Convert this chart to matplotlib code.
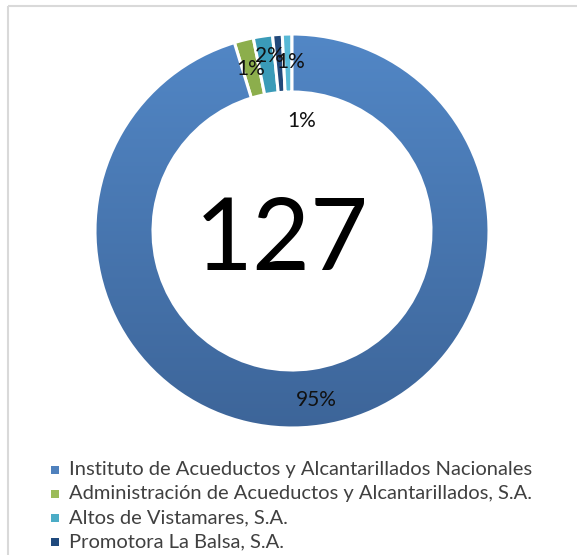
import numpy as np
import matplotlib
matplotlib.use("Agg")
import matplotlib.pyplot as plt
from matplotlib.patches import Rectangle
from matplotlib.colors import LinearSegmentedColormap

# ---- data ----
categories = [
    "Instituto de Acueductos y Alcantarillados Nacionales",
    "Administración de Acueductos y Alcantarillados, S.A.",
    "Altos de Vistamares, S.A.",
    "Promotora La Balsa, S.A.",
    "Otros",
]
values = [121, 2, 2, 1, 1]
pct_labels = ["95%", "1%", "2%", "1%", "1%"]
total_label = "127"
legend_shown = 4

colors = ["#4A7AB8", "#8CAE4C", "#3A9BB8", "#22497A", "#58B9D6"]
legend_colors = ["#4F81BD", "#9BBB59", "#4BACC6", "#1F497D"]

# ---- style / layout ----
W, H = 577, 555
fig = plt.figure(figsize=(W / 100, H / 100), dpi=100)
ax = fig.add_axes([0, 0, 1, 1])
FONT = "Lato"

cx, cy, R, ring = 292, 231, 197, 58

# chart border
ax.add_patch(Rectangle((8, 6), 700, 700, fill=False, edgecolor="#D9D9D9", lw=1.5))

# pie (y axis inverted -> counterclock=True draws clockwise on screen)
wedges, _ = ax.pie(values, colors=colors, startangle=-90, counterclock=True,
                   center=(cx, cy), radius=R, frame=True,
                   wedgeprops=dict(width=ring, edgecolor="white", linewidth=2.2))
ax.set_xlim(0, W)
ax.set_ylim(H, 0)
ax.set_aspect("equal")
ax.axis("off")

# gradient for main slice
grad = LinearSegmentedColormap.from_list("g", ["#5287C6", "#3D6599"])
img = ax.imshow(np.linspace(0, 1, 256).reshape(-1, 1), cmap=grad, aspect="auto",
                extent=(cx - R, cx + R, cy + R, cy - R), zorder=wedges[0].get_zorder())
img.set_clip_path(wedges[0])
wedges[0].set_zorder(img.get_zorder() + 0.1)
wedges[0].set_facecolor("none")

# data labels
label_offsets = [(0, 3), (0, 0), (2, -9), (11, -2), (14, 57)]
cum = np.cumsum([0] + values[:-1])
tot = sum(values)
rmid = R - ring / 2 - 0.5
for v, c0, lab, (dx, dy) in zip(values, cum, pct_labels, label_offsets):
    ang = np.deg2rad((c0 + v / 2) / tot * 360)
    x = cx + rmid * np.sin(ang) + dx
    y = cy - rmid * np.cos(ang) + dy
    ax.text(x, y, lab, ha="center", va="center", fontsize=15, family=FONT,
            color="#111111")

# centre total
ax.text(cx - 10, cy + 2, total_label, ha="center", va="center_baseline", fontsize=72,
        family=FONT, color="black")

# legend
for i in range(legend_shown):
    yy = 470 + i * 24
    ax.add_patch(Rectangle((51, yy - 4), 7.5, 7.5, facecolor=legend_colors[i], edgecolor="none"))
    ax.text(69, yy, categories[i], ha="left", va="center", fontsize=14.5, family=FONT,
            color="#404040")

fig.savefig("out.png", dpi=100)
